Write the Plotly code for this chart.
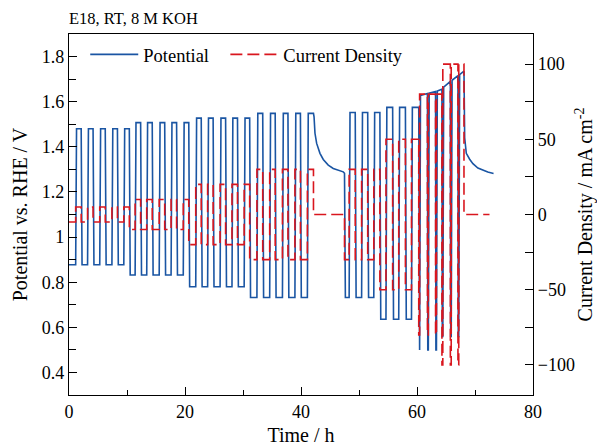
import plotly.graph_objects as go

# ---------------- data ----------------
# blocks of galvanostatic cycling (cathodic step followed by anodic step)
block_current = [5, 10, 20, 30, 30, 50, 80, 100]            # mA cm-2
block_cycles = [5, 5, 5, 5, 3, 3, 3, 3]
block_v_cathodic = [0.877, 0.832, 0.780, 0.732, 0.732, 0.636, 0.50, 0.56]  # V

# per-cycle timing (h)
cathodic_on = [0.0, 2.1, 4.15, 6.25, 8.35,
               10.4, 12.35, 14.35, 16.5, 18.55,
               20.65, 22.8, 24.85, 27.0, 29.05,
               31.15, 33.4, 35.55, 37.75, 39.9,
               47.5, 49.35, 51.5,
               53.6, 55.8, 58.0,
               60.3, 61.8, 63.2,
               64.3, 65.75, 67.06]
anodic_on = [1.15, 3.2, 5.3, 7.4, 9.45,
             11.4, 13.4, 15.55, 17.6, 19.7,
             21.85, 23.9, 26.05, 28.1, 30.2,
             32.4, 34.6, 36.8, 38.95, 41.1,
             48.3, 50.45, 52.55,
             54.65, 56.85, 59.05,
             60.45, 61.95, 63.35,
             64.45, 65.9, 67.2]
anodic_off = [2.1, 4.15, 6.25, 8.35, 10.4,
              12.35, 14.35, 16.5, 18.55, 20.65,
              22.8, 24.85, 27.0, 29.05, 31.15,
              33.4, 35.55, 37.75, 39.9, 42.15,
              49.35, 51.5, 53.6,
              55.8, 58.0, 60.3,
              61.8, 63.2, 64.3,
              65.75, 67.06, 68.1]
# anodic potential at start / end of each anodic step (V)
v_anodic_start = [1.48] * 5 + [1.507] * 5 + [1.527] * 5 + [1.548] * 5 + \
                 [1.552] * 3 + [1.575] * 3 + [1.628, 1.638, 1.647] + [1.665, 1.695, 1.72]
v_anodic_end = [1.48] * 5 + [1.507] * 5 + [1.527] * 5 + [1.548] * 5 + \
               [1.552] * 3 + [1.575] * 3 + [1.636, 1.645, 1.655] + [1.69, 1.715, 1.735]

# open-circuit relaxations (potential decay)
ocp1_t = [42.25, 42.41, 42.70, 43.27, 43.84, 44.70, 45.56, 46.42, 47.28, 47.5]
ocp1_v = [1.533, 1.460, 1.415, 1.371, 1.344, 1.319, 1.304, 1.296, 1.289, 1.283]
ocp2_t = [68.22, 68.5, 69.08, 69.64, 70.5, 71.36, 72.2, 73.2]
ocp2_v = [1.44, 1.371, 1.345, 1.325, 1.306, 1.296, 1.288, 1.282]
ocp2_current_end = 72.5

x_ticks = [0, 20, 40, 60, 80]
y_ticks = [0.4, 0.6, 0.8, 1.0, 1.2, 1.4, 1.6, 1.8]
y2_ticks = [-100, -50, 0, 50, 100]

# ---------------- build the step series ----------------
cyc_j, cyc_vc = [], []
for b, n in enumerate(block_cycles):
    cyc_j += [block_current[b]] * n
    cyc_vc += [block_v_cathodic[b]] * n

ocp_after = {sum(block_cycles[:4]) - 1: (ocp1_t, ocp1_v),
             len(anodic_on) - 1: (ocp2_t, ocp2_v)}

pot_t, pot_v = [], []
cur_t, cur_j = [], []
RAMP = 0.15
for k in range(len(anodic_on)):
    c0, a0, a1 = cathodic_on[k], anodic_on[k], anodic_off[k]
    r = min(RAMP, 0.4 * (a0 - c0))
    if k == 0:
        pot_t.append(c0); pot_v.append(cyc_vc[k])
    else:
        pot_t.append(c0 + r); pot_v.append(cyc_vc[k])
    pot_t.append(a0); pot_v.append(cyc_vc[k])
    cur_t.append(c0); cur_j.append(-cyc_j[k])
    r = min(RAMP, 0.4 * (a1 - a0))
    pot_t.append(a0 + r); pot_v.append(v_anodic_start[k])
    pot_t.append(a1); pot_v.append(v_anodic_end[k])
    cur_t.append(a0); cur_j.append(cyc_j[k])
    if k in ocp_after:
        ts, vs = ocp_after[k]
        pot_t += ts; pot_v += vs
        cur_t.append(a1); cur_j.append(0)
cur_t.append(ocp2_current_end); cur_j.append(0)

BLUE = "#1a55a3"
RED = "#d9161e"
FONT = "Liberation Serif, Times New Roman, serif"

fig = go.Figure()
fig.add_trace(go.Scatter(x=pot_t, y=pot_v, mode="lines", name="Potential",
                         legend="legend", line=dict(color=BLUE, width=1.6)))
fig.add_trace(go.Scatter(x=cur_t, y=cur_j, mode="lines", name="Current Density",
                         yaxis="y2", legend="legend2",
                         line=dict(color=RED, width=1.6, dash="12px,5px", shape="hv")))

axis_common = dict(showline=True, linecolor="black", linewidth=1.3, ticks="inside",
                   tickcolor="black", tickwidth=1.3, showgrid=False, zeroline=False,
                   automargin=False,
                   tickfont=dict(family=FONT, size=18, color="black"))

legend_common = dict(orientation="h", y=0.995, xanchor="left", yanchor="top",
                     bgcolor="rgba(0,0,0,0)", font=dict(family=FONT, size=18.5, color="black"),
                     itemwidth=48)

fig.update_layout(
    width=597, height=446,
    margin=dict(l=68.5, r=63.7, t=34, b=51, autoexpand=False),
    paper_bgcolor="white", plot_bgcolor="white",
    font=dict(family=FONT, color="black"),
    title=dict(text="E18, RT, 8 M KOH", x=0.0, xref="paper", xanchor="left",
               y=1 - 18 / 446, yref="container", yanchor="middle", automargin=False,
               font=dict(family=FONT, size=16.5, color="black")),
    xaxis=dict(range=[0, 80], tickvals=x_ticks, ticklen=8, mirror=True,
               minor=dict(dtick=10, ticklen=5, ticks="inside", tickcolor="black", tickwidth=1.3),
               title=dict(text="Time / h", font=dict(family=FONT, size=20), standoff=7),
               **axis_common),
    yaxis=dict(range=[0.3, 1.9], tickvals=y_ticks, ticklen=8,
               minor=dict(dtick=0.1, tick0=0.3, ticklen=7, ticks="inside", tickcolor="black", tickwidth=1.3),
               title=dict(text="Potential vs. RHE / V", font=dict(family=FONT, size=20), standoff=8),
               **axis_common),
    yaxis2=dict(range=[-120, 120], tickvals=y2_ticks, ticklen=8, overlaying="y", side="right",
                minor=dict(dtick=25, tick0=0, ticklen=8, ticks="inside", tickcolor="black", tickwidth=1.3),
                title=dict(text="Current Density / mA cm<sup>-2</sup>", font=dict(family=FONT, size=20), standoff=12),
                **axis_common),
    legend=dict(x=0.035, **legend_common),
    legend2=dict(x=0.337, **legend_common),
    showlegend=True,
)

fig.write_html("out.html")
